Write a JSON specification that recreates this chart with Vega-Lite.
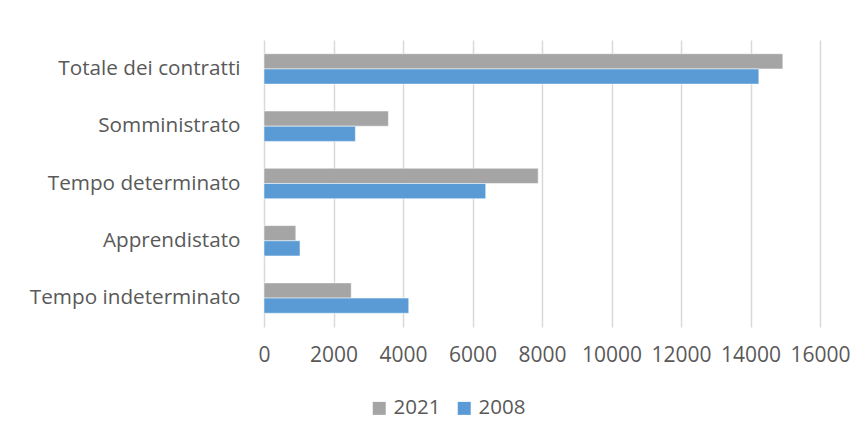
{
  "$schema": "https://vega.github.io/schema/vega-lite/v6.json",
  "width": 556,
  "height": 287,
  "autosize": {"type": "none"},
  "padding": {"left": 264, "top": 40, "right": 46, "bottom": 116},
  "background": "white",
  "data": {
    "values": [
      {"cat": "Totale dei contratti", "year": "2021", "v": 14930},
      {"cat": "Totale dei contratti", "year": "2008", "v": 14240},
      {"cat": "Somministrato", "year": "2021", "v": 3580},
      {"cat": "Somministrato", "year": "2008", "v": 2630},
      {"cat": "Tempo determinato", "year": "2021", "v": 7890},
      {"cat": "Tempo determinato", "year": "2008", "v": 6380},
      {"cat": "Apprendistato", "year": "2021", "v": 915},
      {"cat": "Apprendistato", "year": "2008", "v": 1036},
      {"cat": "Tempo indeterminato", "year": "2021", "v": 2510},
      {"cat": "Tempo indeterminato", "year": "2008", "v": 4165}
    ]
  },
  "mark": {"type": "bar", "stroke": "white", "strokeWidth": 0.5},
  "encoding": {
    "y": {
      "field": "cat", "type": "nominal", "title": null,
      "sort": ["Totale dei contratti", "Somministrato", "Tempo determinato", "Apprendistato", "Tempo indeterminato"],
      "scale": {"paddingInner": 0.47, "paddingOuter": 0.24},
      "axis": {"domain": false, "ticks": false, "labelPadding": 24, "labelFontSize": 20.7, "labelColor": "#595959", "labelFont": "Open Sans", "grid": false, "labelLimit": 300}
    },
    "yOffset": {"field": "year", "type": "nominal", "sort": ["2021", "2008"]},
    "x": {
      "field": "v", "type": "quantitative", "title": null,
      "scale": {"domain": [0, 16000], "nice": false},
      "axis": {"values": [0, 2000, 4000, 6000, 8000, 10000, 12000, 14000, 16000], "format": "d", "domain": false, "ticks": false, "labelPadding": 17, "labelFontSize": 21, "labelColor": "#595959", "labelFont": "Open Sans", "gridColor": "#d9d9d9", "gridWidth": 1.5, "labelOverlap": false, "labelFlush": false}
    },
    "color": {
      "field": "year", "type": "nominal", "sort": ["2021", "2008"],
      "scale": {"domain": ["2021", "2008"], "range": ["#a5a5a5", "#5b9bd5"]},
      "legend": {"title": null, "orient": "none", "direction": "horizontal", "legendX": 105, "legendY": 358, "symbolType": "square", "symbolSize": 169, "symbolStrokeWidth": 0, "symbolOpacity": 1, "labelFontSize": 20.5, "labelColor": "#595959", "labelFont": "Open Sans", "columnPadding": 13, "labelOffset": 4}
    }
  },
  "config": {"view": {"stroke": null}}
}
